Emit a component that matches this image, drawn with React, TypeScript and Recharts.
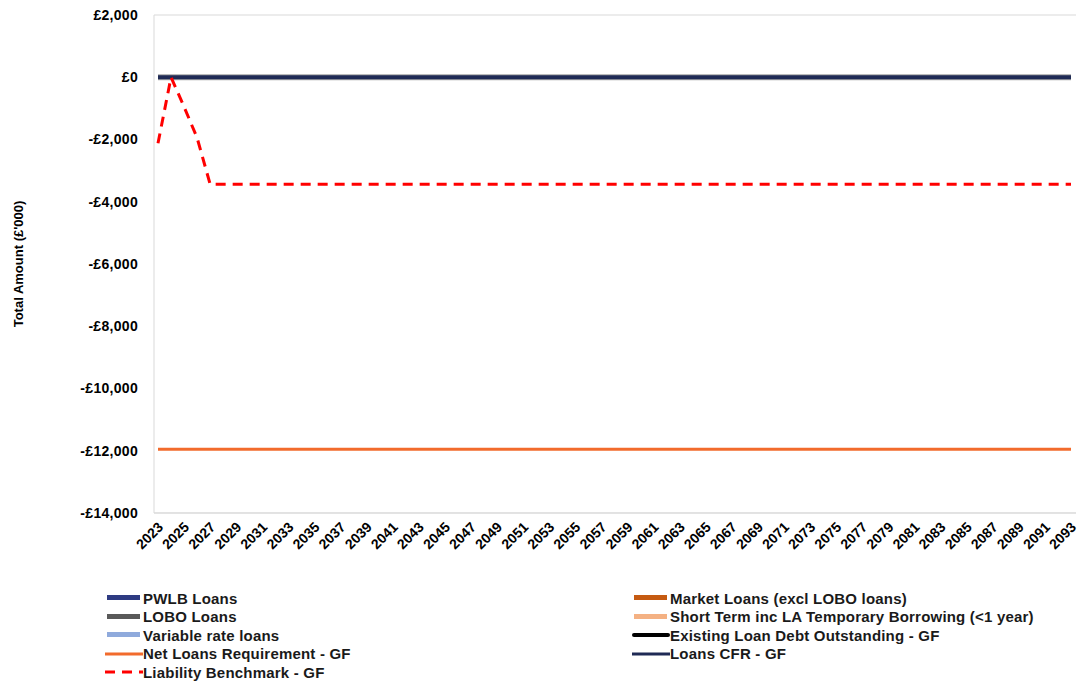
import React from 'react';
import { ComposedChart, Line, XAxis, YAxis, CartesianGrid } from 'recharts';

// years 2023..2093
const years: number[] = [
  2023, 2024, 2025, 2026, 2027, 2028, 2029, 2030, 2031, 2032, 2033, 2034, 2035, 2036, 2037, 2038,
  2039, 2040, 2041, 2042, 2043, 2044, 2045, 2046, 2047, 2048, 2049, 2050, 2051, 2052, 2053, 2054,
  2055, 2056, 2057, 2058, 2059, 2060, 2061, 2062, 2063, 2064, 2065, 2066, 2067, 2068, 2069, 2070,
  2071, 2072, 2073, 2074, 2075, 2076, 2077, 2078, 2079, 2080, 2081, 2082, 2083, 2084, 2085, 2086,
  2087, 2088, 2089, 2090, 2091, 2092, 2093,
];

const existingDebt: number[] = [
  0, 0, 0, 0, 0, 0, 0, 0, 0, 0, 0, 0, 0, 0, 0, 0, 0, 0, 0, 0, 0, 0, 0, 0, 0, 0, 0, 0, 0, 0, 0, 0, 0, 0, 0, 0,
  0, 0, 0, 0, 0, 0, 0, 0, 0, 0, 0, 0, 0, 0, 0, 0, 0, 0, 0, 0, 0, 0, 0, 0, 0, 0, 0, 0, 0, 0, 0, 0, 0, 0, 0,
];

const loansCfr: number[] = [
  0, 0, 0, 0, 0, 0, 0, 0, 0, 0, 0, 0, 0, 0, 0, 0, 0, 0, 0, 0, 0, 0, 0, 0, 0, 0, 0, 0, 0, 0, 0, 0, 0, 0, 0, 0,
  0, 0, 0, 0, 0, 0, 0, 0, 0, 0, 0, 0, 0, 0, 0, 0, 0, 0, 0, 0, 0, 0, 0, 0, 0, 0, 0, 0, 0, 0, 0, 0, 0, 0, 0,
];

const netLoansReq: number[] = [
  -11950, -11950, -11950, -11950, -11950, -11950, -11950, -11950, -11950, -11950, -11950, -11950,
  -11950, -11950, -11950, -11950, -11950, -11950, -11950, -11950, -11950, -11950, -11950, -11950,
  -11950, -11950, -11950, -11950, -11950, -11950, -11950, -11950, -11950, -11950, -11950, -11950,
  -11950, -11950, -11950, -11950, -11950, -11950, -11950, -11950, -11950, -11950, -11950, -11950,
  -11950, -11950, -11950, -11950, -11950, -11950, -11950, -11950, -11950, -11950, -11950, -11950,
  -11950, -11950, -11950, -11950, -11950, -11950, -11950, -11950, -11950, -11950, -11950,
];

const liabilityBenchmark: number[] = [
  -2120, 0, -950, -1950, -3440, -3440, -3440, -3440, -3440, -3440, -3440, -3440, -3440, -3440,
  -3440, -3440, -3440, -3440, -3440, -3440, -3440, -3440, -3440, -3440, -3440, -3440, -3440, -3440,
  -3440, -3440, -3440, -3440, -3440, -3440, -3440, -3440, -3440, -3440, -3440, -3440, -3440, -3440,
  -3440, -3440, -3440, -3440, -3440, -3440, -3440, -3440, -3440, -3440, -3440, -3440, -3440, -3440,
  -3440, -3440, -3440, -3440, -3440, -3440, -3440, -3440, -3440, -3440, -3440, -3440, -3440, -3440,
  -3440,
];

const yTicks: number[] = [2000, 0, -2000, -4000, -6000, -8000, -10000, -12000, -14000];

const legendLeft = [
  { name: 'PWLB Loans', color: '#2E3B82', kind: 'bar' },
  { name: 'LOBO Loans', color: '#595959', kind: 'bar' },
  { name: 'Variable rate loans', color: '#8FAADC', kind: 'bar' },
  { name: 'Net Loans Requirement - GF', color: '#F26B2C', kind: 'line' },
  { name: 'Liability Benchmark - GF', color: '#FF0000', kind: 'dash' },
];

const legendRight = [
  { name: 'Market Loans (excl LOBO loans)', color: '#C55A11', kind: 'bar' },
  { name: 'Short Term inc LA Temporary Borrowing (<1 year)', color: '#F4B183', kind: 'bar' },
  { name: 'Existing Loan Debt Outstanding - GF', color: '#000000', kind: 'thick' },
  { name: 'Loans CFR - GF', color: '#1F2A55', kind: 'line' },
];

const data = years.map((y, i) => ({
  year: String(y),
  existing: existingDebt[i],
  cfr: loansCfr[i],
  net: netLoansReq[i],
  lb: liabilityBenchmark[i],
}));

const FONT = 'Liberation Sans, Arial, sans-serif';

const fmtMoney = (v: number) => {
  const s = '£' + Math.abs(v).toLocaleString('en-GB');
  return v < 0 ? '-' + s : s;
};

const XTick = (props: any) => {
  const { x, y, payload, index } = props;
  if (index % 2 !== 0) return null;
  return (
    <text
      x={x + 6}
      y={y + 7}
      transform={`rotate(-45, ${x + 6}, ${y + 7})`}
      textAnchor="end"
      fontSize={14}
      fontWeight="bold"
      fontFamily={FONT}
      fill="#000"
    >
      {payload.value}
    </text>
  );
};

const LegendIcon = ({ color, kind }: { color: string; kind: string }) => {
  if (kind === 'dash')
    return (
      <svg width={38} height={10}>
        <line x1={0} y1={5} x2={38} y2={5} stroke={color} strokeWidth={3} strokeDasharray="10 7" />
      </svg>
    );
  if (kind === 'line')
    return (
      <svg width={38} height={10}>
        <line x1={0} y1={5} x2={38} y2={5} stroke={color} strokeWidth={3} />
      </svg>
    );
  if (kind === 'thick')
    return (
      <svg width={38} height={10}>
        <line x1={2} y1={5} x2={36} y2={5} stroke={color} strokeWidth={4} strokeLinecap="round" />
      </svg>
    );
  return (
    <svg width={38} height={10}>
      <rect x={2} y={2} width={33} height={5} fill={color} />
    </svg>
  );
};

const LegendCol = ({ items, left }: { items: any[]; left: number }) => (
  <div style={{ position: 'absolute', left, top: 589 }}>
    {items.map((it) => (
      <div key={it.name} style={{ display: 'flex', alignItems: 'center', height: 18.5 }}>
        <LegendIcon color={it.color} kind={it.kind} />
        <span
          style={{
            fontFamily: FONT,
            fontWeight: 'bold',
            fontSize: 15,
            letterSpacing: 0.2,
            color: '#1a1a1a',
            whiteSpace: 'nowrap',
          }}
        >
          {it.name}
        </span>
      </div>
    ))}
  </div>
);

export default function App() {
  return (
    <div style={{ position: 'absolute', left: 0, top: 0, width: 1078, height: 684, background: '#fff' }}>
      <ComposedChart width={1078} height={584} data={data} margin={{ top: 15, right: 2, left: 0, bottom: 0 }}>
        <CartesianGrid vertical={false} stroke="#d9d9d9" />
        <XAxis
          dataKey="year"
          interval={0}
          tick={<XTick />}
          tickLine={false}
          axisLine={{ stroke: '#d9d9d9' }}
          padding={{ left: 4, right: 5 }}
          height={71}
        />
        <YAxis
          yAxisId="left"
          width={154}
          domain={[-14000, 2000]}
          ticks={yTicks}
          interval={0}
          tickFormatter={fmtMoney}
          tickLine={false}
          axisLine={{ stroke: '#d9d9d9' }}
          tick={{ fontSize: 14, fontWeight: 'bold', fontFamily: FONT, fill: '#000', letterSpacing: 0.3 }}
          tickMargin={10}
          label={{
            value: "Total Amount (£'000)",
            angle: -90,
            position: 'insideLeft',
            offset: 18,
            style: { fontSize: 13, fontWeight: 'bold', fontFamily: FONT, fill: '#000', textAnchor: 'middle' },
          }}
        />
        <YAxis yAxisId="right" orientation="right" width={0} tick={false} tickLine={false} axisLine={{ stroke: '#d9d9d9' }} domain={[-14000, 2000]} />
        <Line yAxisId="left" dataKey="net" stroke="#F26B2C" strokeWidth={3} dot={false} isAnimationActive={false} />
        <Line yAxisId="left" dataKey="existing" stroke="#a6a6a6" strokeWidth={6} dot={false} isAnimationActive={false} />
        <Line yAxisId="left" dataKey="cfr" stroke="#1F2A55" strokeWidth={4} dot={false} isAnimationActive={false} />
        <Line
          yAxisId="left"
          dataKey="lb"
          stroke="#FF0000"
          strokeWidth={3}
          strokeDasharray="10 7"
          dot={false}
          isAnimationActive={false}
        />
      </ComposedChart>
      <LegendCol items={legendLeft} left={105} />
      <LegendCol items={legendRight} left={632} />
    </div>
  );
}
